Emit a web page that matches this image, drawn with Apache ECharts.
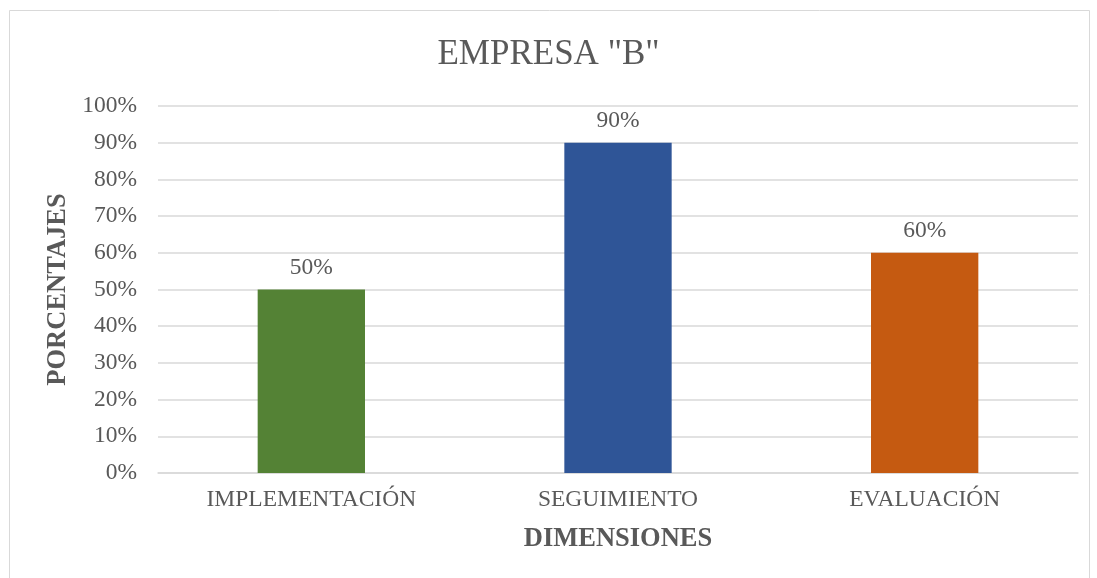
<!DOCTYPE html>
<html><head><meta charset="utf-8">
<script src="https://cdn.jsdelivr.net/npm/echarts@6/dist/echarts.min.js"></script>
<style>html,body{margin:0;padding:0;background:#fff}#c{width:1097px;height:578px}</style>
</head><body><div id="c"></div>
<script>
const categories = ['IMPLEMENTACIÓN', 'SEGUIMIENTO', 'EVALUACIÓN'];
const values = [50, 90, 60];
const barColors = ['#548235', '#2F5597', '#C55A11'];
const yTicks = [0, 10, 20, 30, 40, 50, 60, 70, 80, 90, 100];

const font = '"Liberation Serif", "Times New Roman", serif';
const chart = echarts.init(document.getElementById('c'));
chart.setOption({
  animation: false,
  backgroundColor: '#fff',
  title: {
    text: 'EMPRESA "B"', left: 'center', top: 32,
    textStyle: { fontFamily: font, fontSize: 35, fontWeight: 'normal', color: '#595959' }
  },
  graphic: [{
    type: 'rect', shape: { x: 9.5, y: 10.5, width: 1080, height: 600 },
    style: { fill: 'none', stroke: '#D9D9D9', lineWidth: 1 }, silent: true
  }],
  grid: { left: 158, right: 19, top: 106, bottom: 105, containLabel: false },
  xAxis: {
    type: 'category', data: categories,
    name: 'DIMENSIONES', nameLocation: 'middle', nameGap: 53,
    nameTextStyle: { fontFamily: font, fontSize: 26.5, fontWeight: 'bold', color: '#595959' },
    axisLine: { lineStyle: { color: '#D9D9D9', width: 1.5 } },
    axisTick: { show: false },
    axisLabel: { fontFamily: font, fontSize: 23.5, color: '#595959', margin: 15 }
  },
  yAxis: {
    type: 'value', min: 0, max: 100, interval: 10,
    name: 'PORCENTAJES', nameLocation: 'middle', nameGap: 82,
    nameTextStyle: { fontFamily: font, fontSize: 26.5, fontWeight: 'bold', color: '#595959' },
    axisLine: { show: false }, axisTick: { show: false },
    splitLine: { lineStyle: { color: '#D9D9D9', width: 1.5 } },
    axisLabel: { fontFamily: font, fontSize: 23.5, color: '#595959', margin: 21,
      formatter: v => yTicks.includes(v) ? v + '%' : '' }
  },
  series: [{
    type: 'bar', barWidth: '35%',
    data: values.map((v, i) => ({ value: v, itemStyle: { color: barColors[i] } })),
    label: { show: true, position: 'top', distance: 10, formatter: p => p.value + '%',
      fontFamily: font, fontSize: 23.5, color: '#595959' }
  }]
});
</script></body></html>
